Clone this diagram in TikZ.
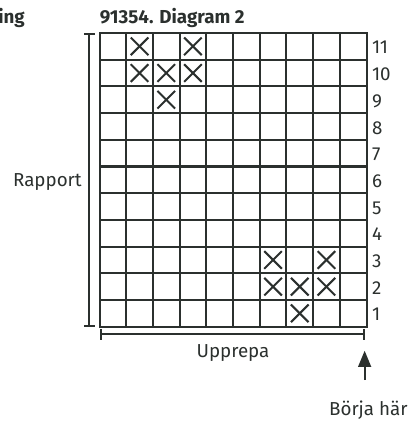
\documentclass[tikz,border=0pt]{standalone}
\usepackage{fontspec}
\setmainfont{Fira Sans}
\usepackage{tikz}
\usetikzlibrary{arrows.meta,positioning,calc}
\definecolor{InkGrey}{HTML}{2B302E}
\tikzset{
  % Grid lines
  rut/.style={line width=1.5pt,draw=InkGrey},
  % Cross in a cell
  kryss/.style={line width=1.5pt,draw=InkGrey,line cap=butt},
  % Brackets
  brk/.style={line width=1.5pt,draw=InkGrey,{Bar[width=8pt]}-{Bar[width=8pt]}},
  % Arrow
  arr/.style={line width=1.5pt,draw=InkGrey,-{Triangle[length=12pt,width=9.5pt]}},
  % Label styles
  txt/.style={font=\fontsize{14}{16}\selectfont,text=InkGrey,inner sep=0pt},
  ttl/.style={font=\fontsize{14}{16}\selectfont\bfseries,text=InkGrey,inner sep=0pt},
  num/.style={txt,anchor=west}
}
\begin{document}
\begin{tikzpicture}[x=0.7cm,y=0.7cm]
  \useasboundingbox (-3.727,-3.869) rectangle (11.816,12.236);

  % title
  \node[ttl,anchor=base west] (title) at (0,11.34) {91354. Diagram 2};
  \node[ttl,anchor=base east] (cut)   at (-2.79,11.34) {ing};

  % chart
  \foreach \c in {1,...,9}
    \draw[rut] (\c,0) -- (\c,11);
  \foreach \r in {1,...,10}
    \draw[rut] (0,\r) -- (10,\r);
  \draw[rut] (0,0) rectangle (10,11);
  \foreach \c/\r in {2/11,4/11,2/10,3/10,4/10,3/9,7/3,9/3,7/2,8/2,9/2,8/1}{
    \draw[kryss] (\c-0.83,\r-0.83) -- (\c-0.17,\r-0.17);
    \draw[kryss] (\c-0.83,\r-0.17) -- (\c-0.17,\r-0.83);
  }

  % row numbers
  \foreach \r in {1,...,11}
    \node[num] (r\r) at (10.2,\r-0.55) {\r};

  % repeat brackets
  \coordinate (rtop) at (-0.378,11);
  \coordinate (rbot) at (-0.378,0);
  \coordinate (uleft) at (0,-0.28);
  \coordinate (uright) at (9.93,-0.28);
  \draw[brk] (rtop) -- (rbot);
  \draw[brk] (uleft) -- (uright);
  \node[txt,anchor=base east] (rapport) at (-0.655,5.24) {Rapport};
  \node[txt,anchor=base] (upprepa) at (5.0,-1.16) {Upprepa};

  % start
  \node[txt,anchor=base] (borja) at (10.07,-3.31) {Börja här};
  \coordinate (tip) at (9.93,-0.9);
  \draw[arr,shorten <=15pt] (borja.north -| tip) -- (tip);
\end{tikzpicture}
\end{document}
